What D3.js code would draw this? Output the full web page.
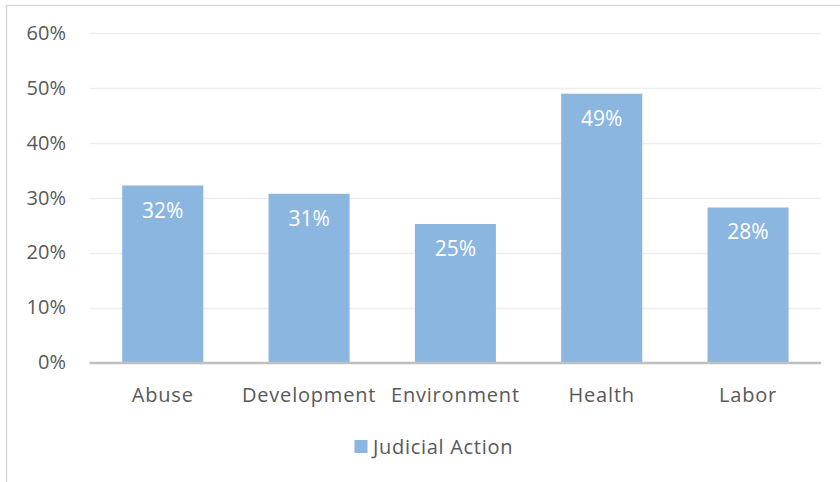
<!DOCTYPE html>
<html>
<head>
<meta charset="utf-8">
<script src="https://cdn.jsdelivr.net/npm/d3@7"></script>
<style>
  html, body { margin: 0; padding: 0; background: #ffffff; }
  svg { display: block; }
  text { font-family: "Open Sans", "Noto Sans", sans-serif; }
</style>
</head>
<body>
<svg id="chart" width="840" height="482"></svg>
<script>
const categories = ["Abuse", "Development", "Environment", "Health", "Labor"];
const seriesName = "Judicial Action";
const values = [0.322, 0.307, 0.252, 0.489, 0.282];
const labels = ["32%", "31%", "25%", "49%", "28%"];
const yTicks = [0, 0.1, 0.2, 0.3, 0.4, 0.5, 0.6];

const svg = d3.select("#chart");
const W = 840, H = 482;
const margin = { left: 89.6, right: 840 - 821.2, top: 32.7, bottom: 482 - 362.5 };

// chart area border
svg.append("rect")
  .attr("x", 6.5).attr("y", 5.5)
  .attr("width", W + 10).attr("height", H + 10)
  .attr("fill", "#ffffff")
  .attr("stroke", "#d9d9d9").attr("stroke-width", 1.5);

const x = d3.scaleBand()
  .domain(categories)
  .range([margin.left, W - margin.right])
  .paddingInner(0.446)
  .paddingOuter(0.223);

const y = d3.scaleLinear()
  .domain([0, 0.6])
  .range([H - margin.bottom, margin.top]);

// gridlines
svg.append("g")
  .selectAll("line")
  .data(yTicks.filter(d => d > 0))
  .join("line")
  .attr("x1", margin.left).attr("x2", W - margin.right)
  .attr("y1", d => Math.round(y(d)) + 0.5).attr("y2", d => Math.round(y(d)) + 0.5)
  .attr("stroke", "#eeeeee").attr("stroke-width", 1.5);

// y axis (labels only)
const yAxis = d3.axisLeft(y)
  .tickValues(yTicks)
  .tickFormat(d3.format(".0%"))
  .tickSize(0)
  .tickPadding(0);
const gy = svg.append("g")
  .attr("transform", "translate(66,0)")
  .call(yAxis);
gy.select(".domain").remove();
gy.selectAll("text")
  .attr("fill", "#595959")
  .style("font-size", "20px")
  .style("font-family", "'Open Sans', sans-serif");

// bars
svg.append("g")
  .selectAll("rect")
  .data(values)
  .join("rect")
  .attr("x", (d, i) => x(categories[i]))
  .attr("width", x.bandwidth())
  .attr("y", d => y(d))
  .attr("height", d => y(0) - y(d))
  .attr("fill", "#8bb6e0");

// data labels
svg.append("g")
  .selectAll("text")
  .data(values)
  .join("text")
  .attr("x", (d, i) => x(categories[i]) + x.bandwidth() / 2)
  .attr("y", d => y(d) + 32)
  .attr("text-anchor", "middle")
  .attr("fill", "#ffffff")
  .style("font-size", "21px")
  .text((d, i) => labels[i]);

// x axis baseline
svg.append("line")
  .attr("x1", margin.left).attr("x2", W - margin.right)
  .attr("y1", y(0) + 0.5).attr("y2", y(0) + 0.5)
  .attr("stroke", "#bfbfbf").attr("stroke-width", 2.5);

// x axis labels
const xAxis = d3.axisBottom(x).tickSize(0).tickPadding(0);
const gx = svg.append("g")
  .attr("transform", `translate(0,${y(0)})`)
  .call(xAxis);
gx.select(".domain").remove();
gx.selectAll("text")
  .attr("dy", null)
  .attr("y", 39)
  .attr("fill", "#595959")
  .style("font-size", "20px")
  .style("letter-spacing", "0.8px")
  .style("font-family", "'Open Sans', sans-serif");

// legend
const lg = svg.append("g");
lg.append("rect")
  .attr("x", 354.5).attr("y", 440)
  .attr("width", 13).attr("height", 13)
  .attr("fill", "#8bb6e0");
lg.append("text")
  .attr("x", 373).attr("y", 454)
  .attr("fill", "#595959")
  .style("font-size", "20px")
  .style("letter-spacing", "0.7px")
  .text(seriesName);
</script>
</body>
</html>
